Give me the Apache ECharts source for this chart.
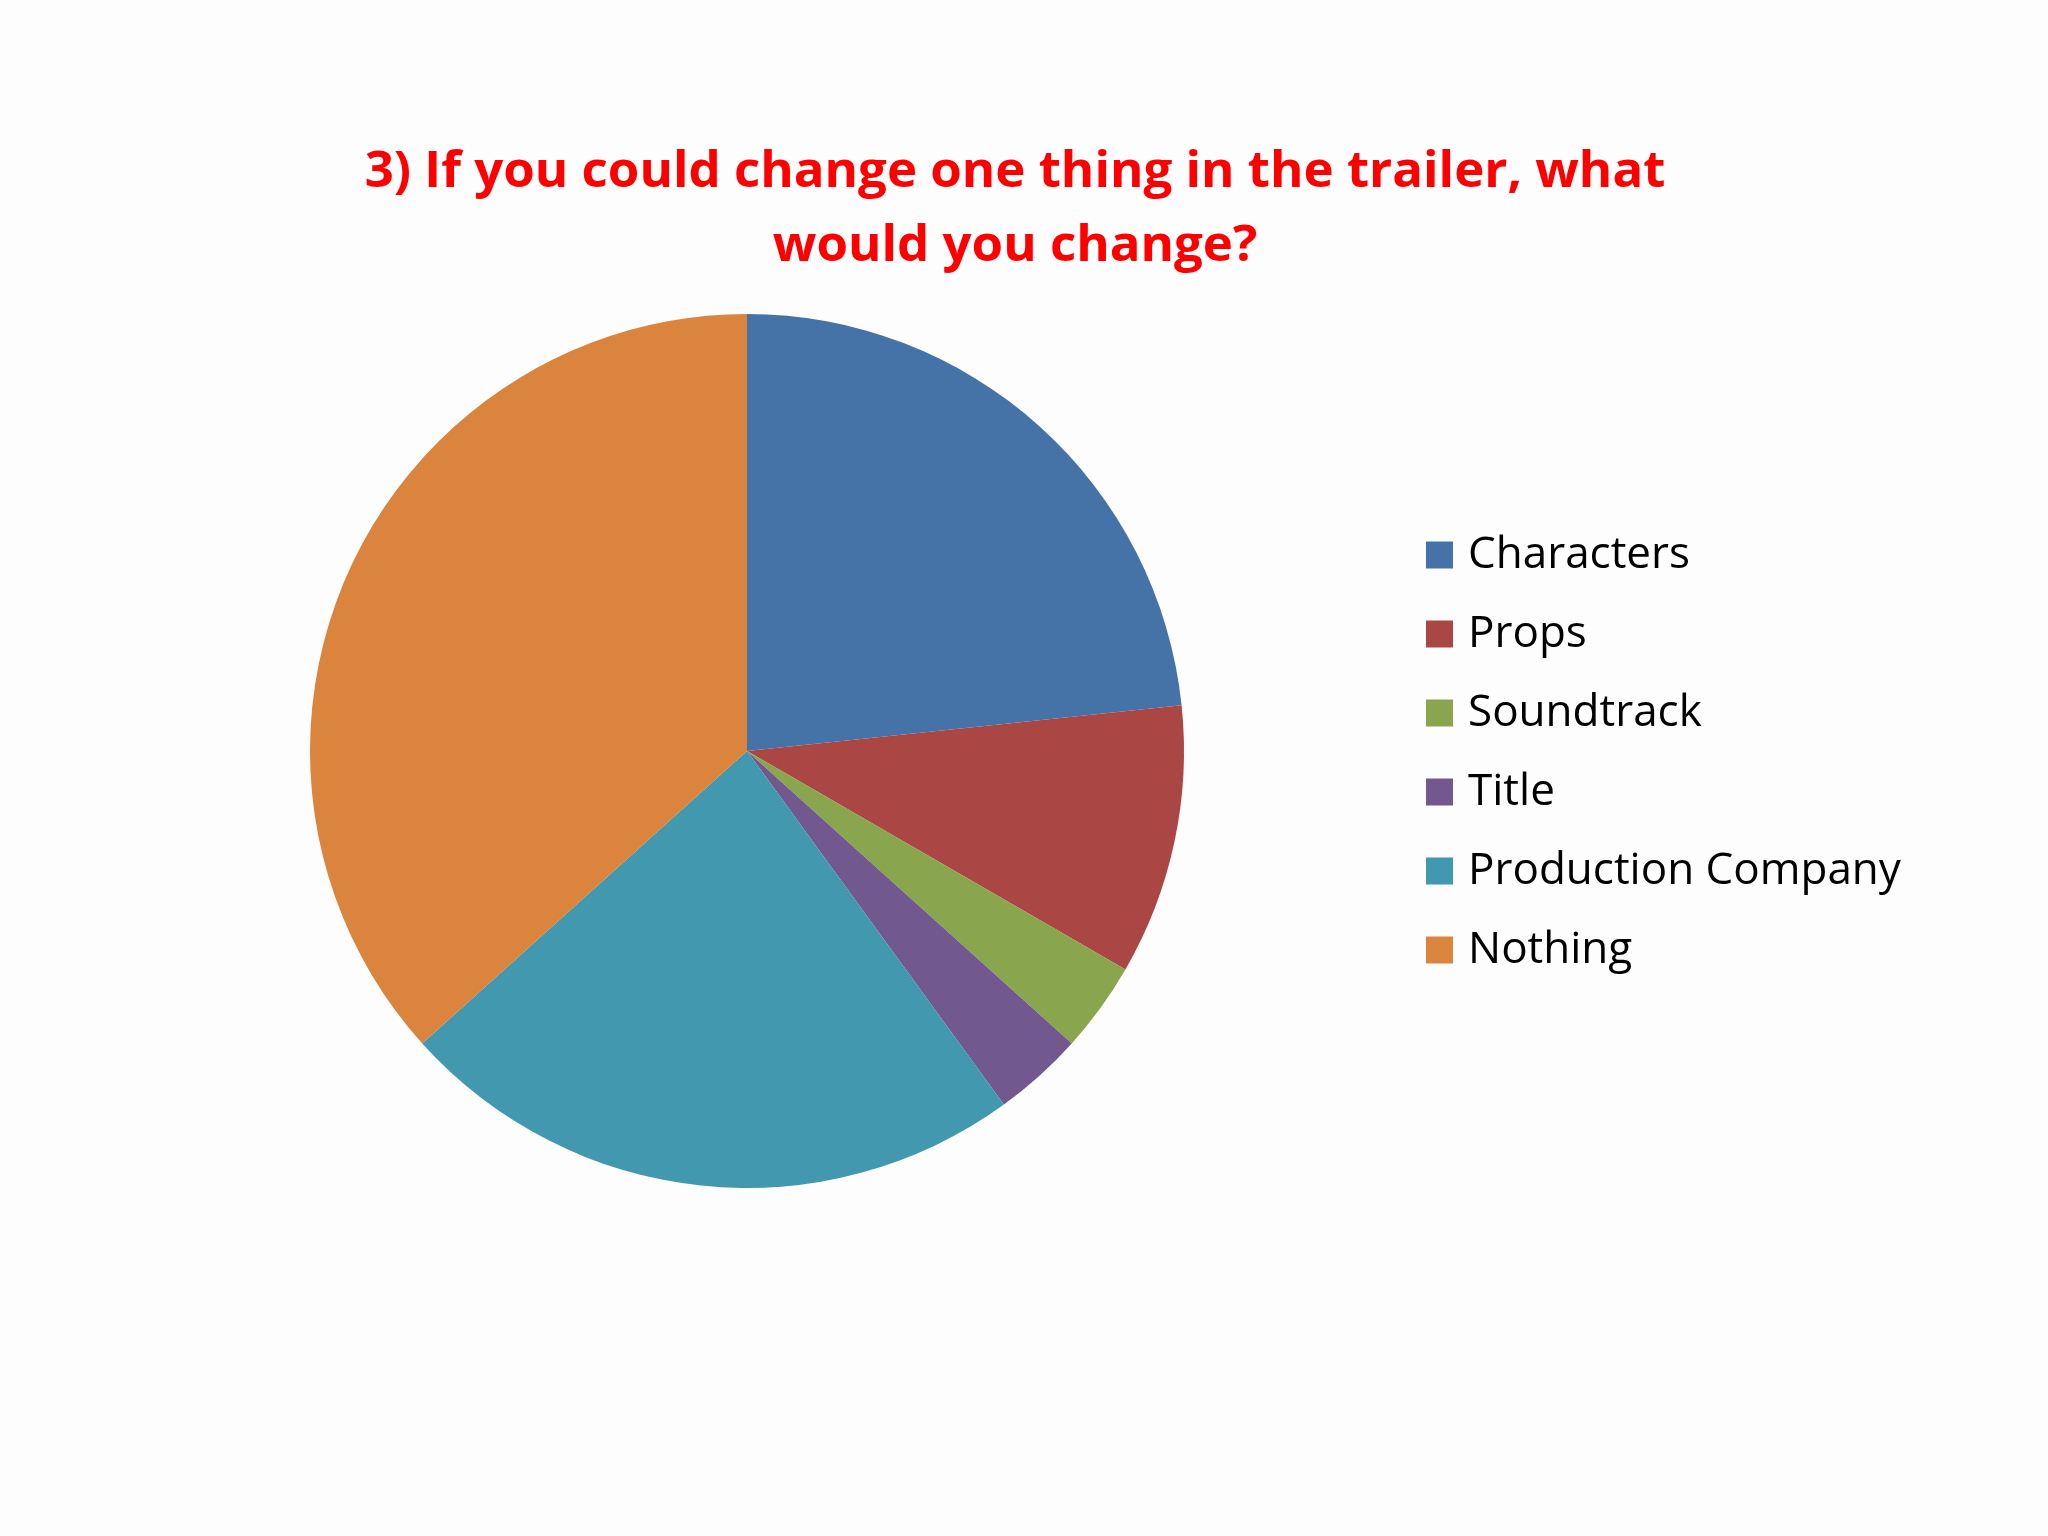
<!DOCTYPE html>
<html>
<head>
<meta charset="utf-8">
<script src="https://cdn.jsdelivr.net/npm/echarts@6/dist/echarts.min.js"></script>
<style>html,body{margin:0;padding:0;background:#ffffff;}#chart{width:2048px;height:1536px;}</style>
</head>
<body>
<div id="chart"></div>
<script>
const titleText = '3) If you could change one thing in the trailer, what\nwould you change?';
const categories = ['Characters', 'Props', 'Soundtrack', 'Title', 'Production Company', 'Nothing'];
const values = [7, 3, 1, 1, 7, 11];
const colors = ['#4572A7', '#AA4643', '#89A54E', '#71588F', '#4198AF', '#DB843D'];

const chart = echarts.init(document.getElementById('chart'));
chart.setOption({
  backgroundColor: '#fdfdfd',
  animation: false,
  color: colors,
  title: {
    text: titleText,
    left: 1010,
    top: 130,
    textAlign: 'center',
    textStyle: {
      fontFamily: 'Open Sans',
      fontWeight: 'bold',
      fontSize: 51,
      lineHeight: 74,
      color: '#ff0000'
    }
  },
  legend: {
    orient: 'vertical',
    left: 1421,
    top: 526,
    itemWidth: 27,
    itemHeight: 27,
    itemGap: 31,
    icon: 'rect',
    textStyle: {
      fontFamily: 'Open Sans',
      fontSize: 44,
      lineHeight: 48,
      color: '#000000',
      padding: [0, 0, 0, 10]
    },
    data: categories
  },
  series: [{
    type: 'pie',
    center: [747, 751],
    radius: 437,
    startAngle: 90,
    clockwise: true,
    label: { show: false },
    labelLine: { show: false },
    emphasis: { disabled: true },
    itemStyle: { borderWidth: 0 },
    data: categories.map((c, i) => ({ name: c, value: values[i] }))
  }]
});
</script>
</body>
</html>
